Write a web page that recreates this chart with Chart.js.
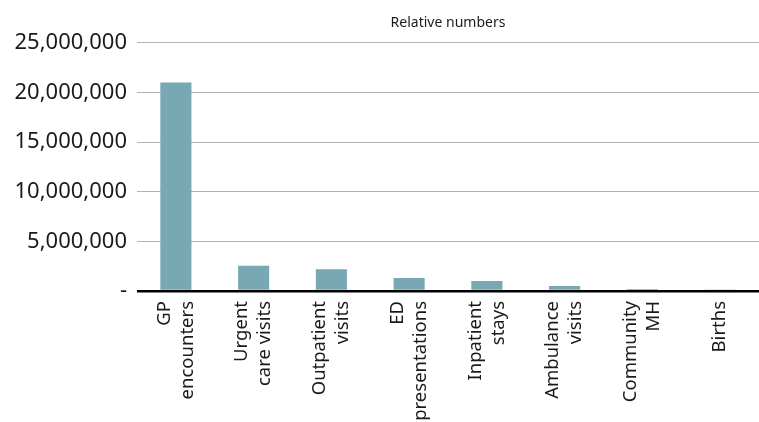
<!DOCTYPE html>
<html>
<head>
<meta charset="utf-8">
<script src="https://cdn.jsdelivr.net/npm/chart.js@4/dist/chart.umd.min.js"></script>
<style>
  html, body { margin: 0; padding: 0; background: #fff; }
  #wrap { width: 759px; height: 422px; }
</style>
</head>
<body>
<div id="wrap"><canvas id="relChart"></canvas></div>
<script>
// categories (multi-line labels, drawn vertically)
const categories = [
    ['GP', 'encounters'],
    ['Urgent', 'care visits'],
    ['Outpatient', 'visits'],
    ['ED', 'presentations'],
    ['Inpatient', 'stays'],
    ['Ambulance', 'visits'],
    ['Community', 'MH'],
    ['Births']
];

// values
const counts = [21000000, 2550000, 2200000, 1300000, 1000000, 500000, 200000, 90000];

const yTicks = [0, 5000000, 10000000, 15000000, 20000000, 25000000];

const font = "'Noto Sans', sans-serif";

// Chart.js shifts rotated multi-line labels off the tick, so the
// category labels are drawn here, centred on each tick of the x scale
const verticalLabels = {
    id: 'verticalLabels',
    afterDraw(chart) {
        const scale = chart.scales.x;
        const c = chart.ctx;
        const lh = 23;
        const top = scale.top + 10;
        c.save();
        c.fillStyle = '#1a1a1a';
        c.font = "18.5px 'Noto Sans', sans-serif";
        c.textAlign = 'right';
        c.textBaseline = 'middle';
        categories.forEach((lines, i) => {
            const px = scale.getPixelForTick(i);
            lines.forEach((txt, j) => {
                const cx = px + (j - (lines.length - 1) / 2) * lh;
                c.save();
                c.translate(cx, top);
                c.rotate(-Math.PI / 2);
                c.fillText(txt, 0, 0);
                c.restore();
            });
        });
        c.restore();
    }
};

new Chart(document.getElementById('relChart'), {
    type: 'bar',
    data: {
        labels: categories,
        datasets: [{
            label: 'Relative numbers',
            data: counts,
            backgroundColor: '#77a8b3',
            barPercentage: 0.4,
            categoryPercentage: 1
        }]
    },
    options: {
        responsive: true,
        maintainAspectRatio: false,
        animation: false,
        plugins: {
            legend: { display: false },
            tooltip: { enabled: false },
            title: {
                display: true,
                fullSize: false,
                text: 'Relative numbers',
                color: '#1a1a1a',
                font: { family: font, size: 14, weight: 'normal' },
                padding: { top: 15, bottom: 11 }
            }
        },
        scales: {
            x: {
                grid: { display: false },
                border: { display: false },
                ticks: { display: false },
                afterFit: (scale) => { scale.height = 131; }
            },
            y: {
                min: 0,
                max: 25000000,
                afterBuildTicks: (scale) => {
                    scale.ticks = yTicks.map(v => ({ value: v }));
                },
                grid: {
                    drawTicks: false,
                    color: (ctx) => ctx.tick && ctx.tick.value === 0 ? '#000' : '#b3b3b3',
                    lineWidth: (ctx) => ctx.tick && ctx.tick.value === 0 ? 2.5 : 1
                },
                border: { display: false },
                ticks: {
                    color: '#1a1a1a',
                    font: { family: font, size: 22 },
                    padding: 10,
                    callback: (value) => value === 0 ? '-' : value.toLocaleString('en-US')
                },
                afterFit: (scale) => { scale.width = 137; }
            }
        }
    },
    plugins: [verticalLabels]
});
</script>
</body>
</html>
